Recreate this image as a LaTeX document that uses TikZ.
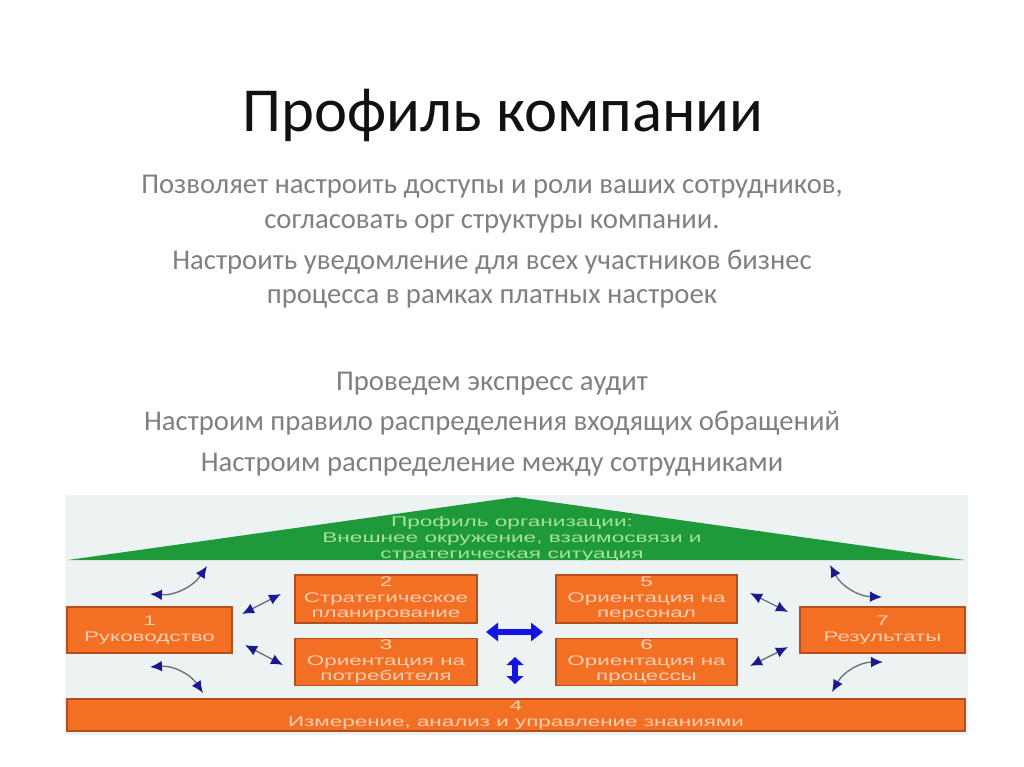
\documentclass[tikz,border=0pt]{standalone}
\usepackage{fontspec}
\setmainfont{Carlito}
\newfontfamily\diagfont[FakeStretch=1.6]{Liberation Sans}
\usetikzlibrary{arrows.meta,positioning}
\definecolor{Ink}{HTML}{111111}
\definecolor{Body}{HTML}{808080}
\definecolor{Panel}{HTML}{EDF3F3}
\definecolor{Roof}{HTML}{1F9A3B}
\definecolor{RoofText}{HTML}{A6E29C}
\definecolor{Block}{HTML}{F36F24}
\definecolor{BlockEdge}{HTML}{B44E1C}
\definecolor{BlockText}{HTML}{FBCFB2}
\definecolor{Navy}{HTML}{1A1A90}
\definecolor{Shaft}{HTML}{6A6E78}
\definecolor{Bright}{HTML}{1414E0}
\tikzset{
  block/.style={draw=BlockEdge, fill=Block, line width=1pt, align=center, text=BlockText, inner sep=1pt,
    font=\diagfont\fontsize{10.5}{11.6}\selectfont},
  bodyline/.style={font=\fontsize{21.5}{25}\selectfont, text=Body, anchor=base},
  rooftext/.style={align=center, text=RoofText, font=\diagfont\fontsize{10.6}{12}\selectfont},
  link/.style={{Latex[length=9pt,width=8pt,color=Navy]}-{Latex[length=9pt,width=8pt,color=Navy]}, draw=Shaft, line width=1pt},
  bigarrow/.style={{Triangle[length=9pt,width=13.5pt]}-{Triangle[length=9pt,width=13.5pt]}, draw=Bright, line width=5pt}
}
\begin{document}
\begin{tikzpicture}[x=0.75pt, y=-0.75pt, node distance=10.5pt]
  \useasboundingbox[fill=white] (0,0) rectangle (1024,767);

  % title and text
  \node[font=\fontsize{47}{56}\selectfont, text=Ink, anchor=base] (title) at (503,132) {Профиль компании};
  \node[bodyline] (t1) at (492,193) {Позволяет настроить доступы и роли ваших сотрудников,};
  \node[bodyline] (t2) at (492,228) {согласовать орг структуры компании.};
  \node[bodyline] (t3) at (492,269) {Настроить уведомление для всех участников бизнес};
  \node[bodyline] (t4) at (492,303) {процесса в рамках платных настроек};
  \node[bodyline] (t5) at (492,390) {Проведем экспресс аудит};
  \node[bodyline] (t6) at (492,430) {Настроим правило распределения входящих обращений};
  \node[bodyline] (t7) at (492,471) {Настроим распределение между сотрудниками};

  % diagram
  \fill[Panel] (65,495) rectangle (968,735);
  \fill[Roof] (516,497) -- (965,560) -- (68,560) -- cycle;
  \node[rooftext] (roof) at (512,539) {Профиль организации:\\Внешнее окружение, взаимосвязи и\\стратегическая ситуация};

  \node[block, minimum width=123.75pt, minimum height=34.5pt] (lead) at (149.5,630) {1\\Руководство};
  \node[block, minimum width=136.5pt, minimum height=36pt] (plan) at (386,599) {2\\Стратегическое\\планирование};
  \node[block, below=of plan, minimum width=136.5pt, minimum height=35.25pt] (client) {3\\Ориентация на\\потребителя};
  \node[block, minimum width=135.75pt, minimum height=36pt] (staff) at (646.5,599) {5\\Ориентация на\\персонал};
  \node[block, below=of staff, minimum width=135.75pt, minimum height=35.25pt] (proc) {6\\Ориентация на\\процессы};
  \node[block, minimum width=123.75pt, minimum height=34.5pt] (result) at (882.5,630) {7\\Результаты};
  \node[block, minimum width=673.5pt, minimum height=24pt] (know) at (516,715) {4\\Измерение, анализ и управление знаниями};

  \coordinate (lt1) at (150,594);  \coordinate (lt2) at (207,566);
  \coordinate (lb1) at (150,667);  \coordinate (lb2) at (203,693);
  \coordinate (rt1) at (830,565);  \coordinate (rt2) at (882,597);
  \coordinate (rb1) at (832,692);  \coordinate (rb2) at (883,662);
  \coordinate (lp1) at (242,614);  \coordinate (lp2) at (281,594);
  \coordinate (lc1) at (245,645);  \coordinate (lc2) at (283,665);
  \coordinate (rs1) at (750,593);  \coordinate (rs2) at (788,612);
  \coordinate (rp1) at (750,666);  \coordinate (rp2) at (788,647);
  \coordinate (mid1) at (486,632); \coordinate (mid2) at (543,632);
  \coordinate (up1) at (515,657);  \coordinate (up2) at (515,684);

  \draw[link] (lt1) to[bend right=30] (lt2);
  \draw[link] (lb1) to[bend left=30] (lb2);
  \draw[link] (rt1) to[bend right=30] (rt2);
  \draw[link] (rb1) to[bend left=30] (rb2);
  \draw[link] (lp1) -- (lp2);
  \draw[link] (lc1) -- (lc2);
  \draw[link] (rs1) -- (rs2);
  \draw[link] (rp1) -- (rp2);
  \draw[bigarrow] (mid1) -- (mid2);
  \draw[bigarrow, line width=4.5pt, {Triangle[length=6pt,width=12.5pt]}-{Triangle[length=6pt,width=12.5pt]}] (up1) -- (up2);
\end{tikzpicture}
\end{document}
